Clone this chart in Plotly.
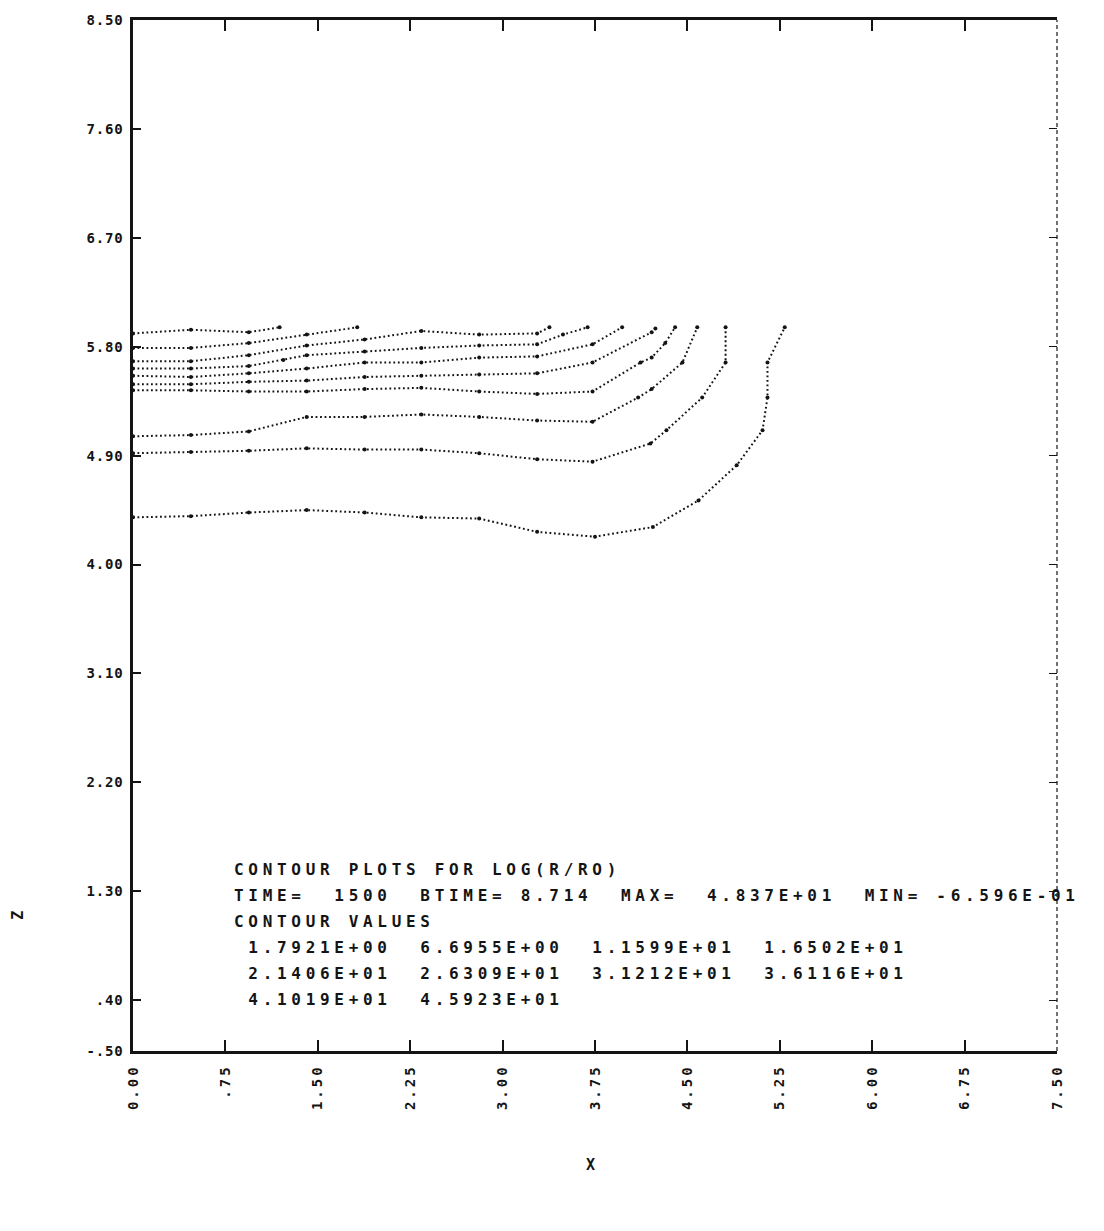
import plotly.graph_objects as go

# ---------------- data ----------------
x_ticks = [0.0, 0.75, 1.5, 2.25, 3.0, 3.75, 4.5, 5.25, 6.0, 6.75, 7.5]
x_labels = ["0.00", ".75", "1.50", "2.25", "3.00", "3.75", "4.50", "5.25", "6.00", "6.75", "7.50"]
z_ticks = [8.5, 7.6, 6.7, 5.8, 4.9, 4.0, 3.1, 2.2, 1.3, 0.4, -0.02]
z_labels = ["8.50", "7.60", "6.70", "5.80", "4.90", "4.00", "3.10", "2.20", "1.30", ".40", "-.50"]

contour_values = ["1.7921E+00", "6.6955E+00", "1.1599E+01", "1.6502E+01", "2.1406E+01",
                  "2.6309E+01", "3.1212E+01", "3.6116E+01", "4.1019E+01", "4.5923E+01"]
time_step = "1500"
btime = "8.714"
max_val = "4.837E+01"
min_val = "-6.596E-01"

x_c1 = [0, 0.47, 0.94, 1.19]
z_c1 = [5.91, 5.94, 5.92, 5.96]
x_c2 = [0, 0.47, 0.94, 1.41, 1.82]
z_c2 = [5.79, 5.79, 5.83, 5.90, 5.96]
x_c3 = [0, 0.47, 0.94, 1.41, 1.88, 2.34, 2.81, 3.28, 3.38]
z_c3 = [5.68, 5.68, 5.73, 5.81, 5.86, 5.93, 5.90, 5.91, 5.96]
x_c4 = [0, 0.47, 0.94, 1.22, 1.41, 1.88, 2.34, 2.81, 3.28, 3.49, 3.69]
z_c4 = [5.62, 5.62, 5.64, 5.69, 5.73, 5.76, 5.79, 5.81, 5.82, 5.90, 5.96]
x_c5 = [0, 0.47, 0.94, 1.41, 1.88, 2.34, 2.81, 3.28, 3.73, 3.97]
z_c5 = [5.56, 5.55, 5.58, 5.62, 5.67, 5.67, 5.71, 5.72, 5.82, 5.96]
x_c6 = [0, 0.47, 0.94, 1.41, 1.88, 2.34, 2.81, 3.28, 3.73, 4.21, 4.24]
z_c6 = [5.49, 5.49, 5.51, 5.52, 5.55, 5.56, 5.57, 5.58, 5.67, 5.92, 5.95]
x_c7 = [0, 0.47, 0.94, 1.41, 1.88, 2.34, 2.81, 3.28, 3.73, 4.12, 4.21, 4.32, 4.40]
z_c7 = [5.44, 5.44, 5.43, 5.43, 5.45, 5.46, 5.43, 5.41, 5.43, 5.67, 5.71, 5.83, 5.96]
x_c8 = [0, 0.47, 0.94, 1.41, 1.88, 2.34, 2.81, 3.28, 3.73, 4.10, 4.21, 4.46, 4.58]
z_c8 = [5.06, 5.07, 5.10, 5.22, 5.22, 5.24, 5.22, 5.19, 5.18, 5.38, 5.45, 5.67, 5.96]
x_c9 = [0, 0.47, 0.94, 1.41, 1.88, 2.34, 2.81, 3.28, 3.73, 4.20, 4.33, 4.62, 4.81, 4.81]
z_c9 = [4.92, 4.93, 4.94, 4.96, 4.95, 4.95, 4.92, 4.87, 4.85, 5.00, 5.11, 5.38, 5.67, 5.96]
x_c10 = [0, 0.47, 0.94, 1.41, 1.88, 2.34, 2.81, 3.28, 3.75, 4.22, 4.59, 4.90, 5.11, 5.15, 5.15, 5.29]
z_c10 = [4.39, 4.40, 4.43, 4.45, 4.43, 4.39, 4.38, 4.27, 4.23, 4.31, 4.53, 4.82, 5.11, 5.38, 5.67, 5.96]

lines_x = [x_c1, x_c2, x_c3, x_c4, x_c5, x_c6, x_c7, x_c8, x_c9, x_c10]
lines_z = [z_c1, z_c2, z_c3, z_c4, z_c5, z_c6, z_c7, z_c8, z_c9, z_c10]

# ---------------- figure ----------------
INK = "#141414"
MONO = "DejaVu Sans Mono"

fig = go.Figure()
for i, (xs, zs) in enumerate(zip(lines_x, lines_z)):
    fig.add_trace(go.Scatter(
        x=xs, y=zs, mode="lines+markers",
        line=dict(color=INK, width=2.0, dash="1.8px,2.7px"),
        marker=dict(color=INK, size=4),
        name=f"contour {i+1}", showlegend=False, hoverinfo="skip",
    ))

# invisible trace to carry the right-hand tick axis
fig.add_trace(go.Scatter(x=[None], y=[None], yaxis="y2", showlegend=False, hoverinfo="skip"))

text_lines = [
    "CONTOUR PLOTS FOR LOG(R/RO)",
    f"TIME=  {time_step}  BTIME= {btime}  MAX=  {max_val}  MIN= {min_val}",
    "CONTOUR VALUES",
    " " + "  ".join(contour_values[0:4]),
    " " + "  ".join(contour_values[4:8]),
    " " + "  ".join(contour_values[8:10]),
]
text_y = [1.483, 1.269, 1.054, 0.839, 0.624, 0.409]

annotations = []
for t, yv in zip(text_lines, text_y):
    annotations.append(dict(
        x=0.80, y=yv, xref="x", yref="y", text=t, showarrow=False,
        xanchor="left", yanchor="middle", align="left",
        font=dict(family=MONO, size=16, color=INK, weight="bold"),
    ))
annotations.append(dict(x=0.4946, y=-0.1106, xref="paper", yref="paper", text="X",
                        showarrow=False, xanchor="center", yanchor="middle",
                        font=dict(family=MONO, size=15, color=INK, weight="bold")))
annotations.append(dict(x=-0.1245, y=0.132, xref="paper", yref="paper", text="Z",
                        showarrow=False, xanchor="center", yanchor="middle", textangle=-90,
                        font=dict(family=MONO, size=15, color=INK, weight="bold")))

fig.update_layout(
    width=1104, height=1231,
    margin=dict(l=133, r=47, t=20, b=180),
    paper_bgcolor="white", plot_bgcolor="white",
    xaxis=dict(
        range=[0, 7.5], tickvals=x_ticks, ticktext=x_labels, tickangle=-90,
        showline=True, linecolor=INK, linewidth=2.5, mirror="ticks",
        ticks="inside", ticklen=11, tickwidth=1.5, tickcolor=INK,
        showgrid=False, zeroline=False, ticklabelstandoff=5,
        tickfont=dict(family=MONO, size=14, color=INK, weight="bold"),
    ),
    yaxis=dict(
        range=[-0.02, 8.5], tickvals=z_ticks, ticktext=z_labels,
        showline=True, linecolor=INK, linewidth=2.5,
        ticks="inside", ticklen=8, tickwidth=1.5, tickcolor=INK,
        showgrid=False, zeroline=False, ticklabelstandoff=4,
        tickfont=dict(family=MONO, size=14, color=INK, weight="bold"),
    ),
    yaxis2=dict(
        range=[-0.02, 8.5], tickvals=z_ticks[:-1], overlaying="y", side="right",
        showline=False, ticks="inside", ticklen=8, tickwidth=1.2, tickcolor=INK,
        showticklabels=False, showgrid=False, zeroline=False,
    ),
    shapes=[dict(type="line", xref="paper", yref="paper", x0=1, x1=1, y0=0, y1=1,
                 line=dict(color=INK, width=1.2, dash="4px,3px"))],
    annotations=annotations,
)

post = """
document.body.style.margin = '0';
var gd = document.getElementById('{plot_id}');
gd.querySelectorAll('.annotation-text').forEach(function(t){
  t.style.whiteSpace = 'pre';
  if (t.textContent.length > 1) { t.style.letterSpacing = '4.7px'; }
});
gd.querySelectorAll('.xtick text').forEach(function(t){ t.style.letterSpacing = '3px'; });
gd.querySelectorAll('.ytick text').forEach(function(t){ t.style.letterSpacing = '0.8px'; });
"""

fig.write_html("out.html", post_script=post, config={"displayModeBar": False})
